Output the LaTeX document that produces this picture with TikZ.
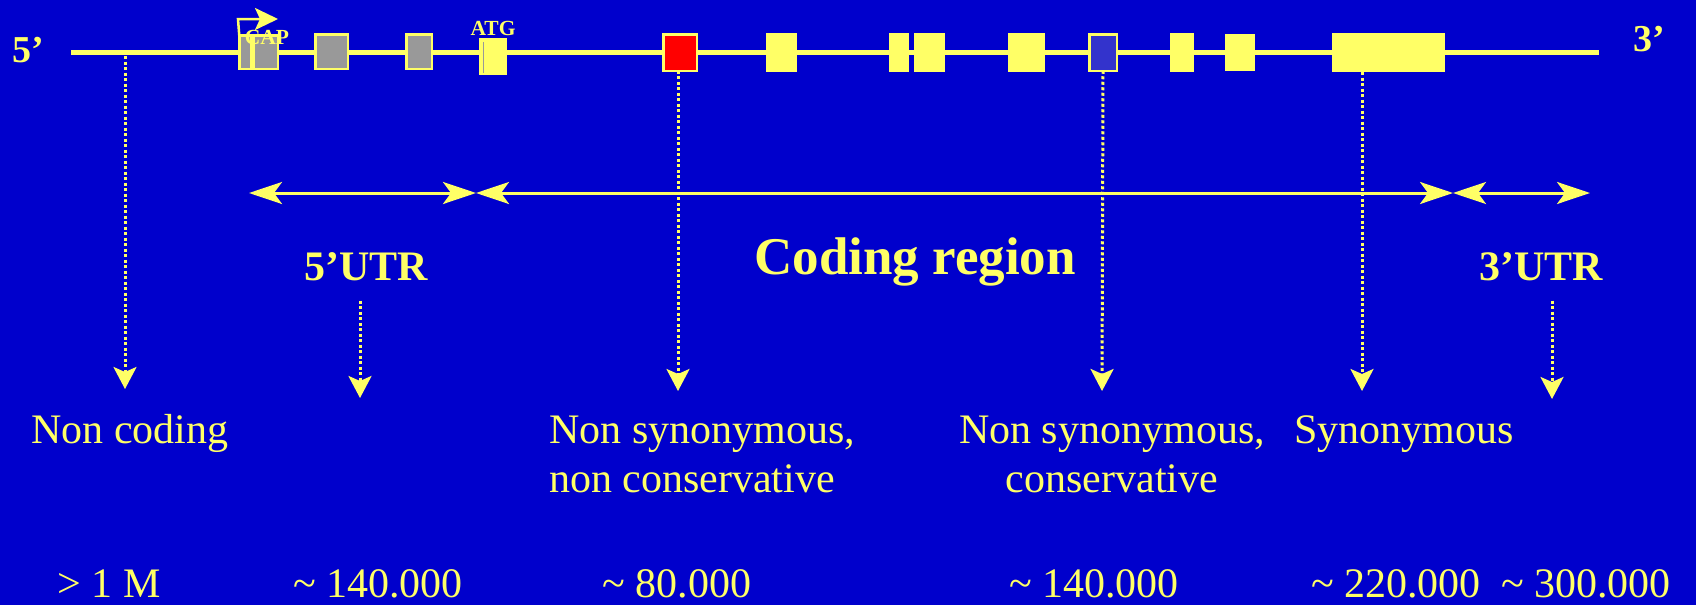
\documentclass[tikz,border=0pt]{standalone}
\usepackage{fontspec}
\setmainfont{Liberation Serif}
\usetikzlibrary{arrows.meta}

\definecolor{bg}{RGB}{0,0,204}
\definecolor{yel}{RGB}{255,255,102}
\definecolor{exgray}{RGB}{153,153,153}
\definecolor{exblue}{RGB}{51,51,204}
\definecolor{exred}{RGB}{255,0,0}

\tikzset{
  yexon/.style={fill=yel, draw=none, inner sep=0pt, outer sep=0pt},
  bexon/.style={draw=yel, line width=2.5pt, inner sep=0pt, outer sep=0pt},
  lbl/.style={text=yel, inner sep=0pt, anchor=base, font=\fontsize{42}{49}\selectfont},
  bigbold/.style={text=yel, inner sep=0pt, anchor=base, font=\bfseries\fontsize{42}{49}\selectfont},
  tiny/.style={text=yel, inner sep=0pt, anchor=base, font=\bfseries\fontsize{21.5}{23}\selectfont},
  dotarrow/.style={draw=yel, line width=3pt, dash pattern=on 3pt off 2.5pt,
    -{Stealth[length=22pt, width=23pt, inset=5pt]}},
  spanarrow/.style={draw=yel, line width=3pt,
    {Stealth[length=33pt, width=22pt, inset=8pt]}-{Stealth[length=33pt, width=22pt, inset=8pt]}},
}

\begin{document}
\begin{tikzpicture}[x=1pt, y=-1pt]
  % background
  \fill[bg] (0,0) rectangle (1696,605);
  \useasboundingbox (0,0) rectangle (1696,605);

  % gene backbone
  \coordinate (g5) at (71,52.5);
  \coordinate (g3) at (1599,52.5);
  \draw[yel, line width=5pt] (g5) -- (g3);

  % 5' untranslated exons
  \node[bexon, fill=exgray, minimum width=11.5, minimum height=33.5] (cap1) at (245,52) {};
  \node[bexon, fill=exgray, minimum width=24.5, minimum height=33.5] (cap2) at (265.5,52) {};
  \node[bexon, fill=exgray, minimum width=32.5, minimum height=34.5] (u2) at (331.5,51.5) {};
  \node[bexon, fill=exgray, minimum width=25.5, minimum height=34.5] (u3) at (419,51.5) {};

  % first coding exon with start codon
  \node[yexon, minimum width=28, minimum height=37] (atg) at (493,56.5) {};
  \draw[exgray, line width=1.5pt] (483.5,42) -- (483.5,73);

  % coding exons
  \node[bexon, fill=exred, minimum width=33.5, minimum height=36.5] (red) at (680,52.5) {};
  \node[yexon, minimum width=31, minimum height=39] (c1) at (781.5,52.5) {};
  \node[yexon, minimum width=20, minimum height=39] (c2) at (899,52.5) {};
  \node[yexon, minimum width=31, minimum height=39] (c3) at (929.5,52.5) {};
  \node[yexon, minimum width=37, minimum height=39] (c4) at (1026.5,52.5) {};
  \node[bexon, fill=exblue, minimum width=27.5, minimum height=36.5] (blue) at (1103,52.5) {};
  \node[yexon, minimum width=24, minimum height=39] (c5) at (1182,52.5) {};
  \node[yexon, minimum width=30, minimum height=37] (c6) at (1240,52.5) {};
  \node[yexon, minimum width=113, minimum height=39] (last) at (1388.5,52.5) {};

  % transcription start
  \draw[yel, line width=2.5pt, -{Stealth[length=23pt, width=22pt, inset=5pt]}]
    (cap1.north west) -- (238,19) -- (278,19);
  \node[tiny] (captxt) at (267,44) {CAP};
  \node[tiny] (atgtxt) at (493,35) {ATG};

  % strand ends
  \node[bigbold, font=\bfseries\fontsize{38}{44}\selectfont] (p5) at (28,62) {5’};
  \node[bigbold, font=\bfseries\fontsize{38}{44}\selectfont] (p3) at (1649,51) {3’};

  % region spans
  \coordinate (s1) at (249,193);
  \coordinate (s2) at (476,193);
  \coordinate (s3) at (1453,193);
  \coordinate (s4) at (1590,193);
  \draw[spanarrow] (s1) -- (s2);
  \draw[spanarrow] (s2) -- (s3);
  \draw[spanarrow] (s3) -- (s4);

  \node[bigbold] (utr5) at (366,280) {5’UTR};
  \node[bigbold, font=\bfseries\fontsize{53}{60}\selectfont] (cod) at (915,274) {Coding region};
  \node[bigbold] (utr3) at (1541,280) {3’UTR};

  % variant classes
  \node[lbl] (nc) at (130,443) {Non coding};
  \node[lbl, anchor=base west] (ns1a) at (549,443) {Non synonymous,};
  \node[lbl, anchor=base west] (ns1b) at (549,492) {non conservative};
  \node[lbl] (ns2a) at (1112,443) {Non synonymous,};
  \node[lbl] (ns2b) at (1112,492) {conservative};
  \node[lbl] (syn) at (1404,443) {Synonymous};

  % arrows to the classes
  \coordinate (nctop) at (125,56);
  \coordinate (t1) at (125,389);
  \coordinate (t2) at (360,398);
  \coordinate (t3) at (678,391);
  \coordinate (t4) at (1102,391);
  \coordinate (t5) at (1362,391);
  \coordinate (t6) at (1552,399);
  \draw[dotarrow] (nctop) -- (t1);
  \draw[dotarrow] (utr5.south -| t2) ++(0,20) -- (t2);
  \draw[dotarrow] (red.south -| t3) -- (t3);
  \draw[dotarrow] (blue.south) -- (t4);
  \draw[dotarrow] (last.south -| t5) -- (t5);
  \draw[dotarrow] (utr3.south -| t6) ++(0,20) -- (t6);

  % counts
  \node[lbl] (n1) at (109,597) {> 1 M};
  \node[lbl] (n2) at (378,597) {\char"007E{} 140.000};
  \node[lbl] (n3) at (677,597) {\char"007E{} 80.000};
  \node[lbl] (n4) at (1094,597) {\char"007E{} 140.000};
  \node[lbl] (n5) at (1396,597) {\char"007E{} 220.000};
  \node[lbl] (n6) at (1586,597) {\char"007E{} 300.000};
\end{tikzpicture}
\end{document}
